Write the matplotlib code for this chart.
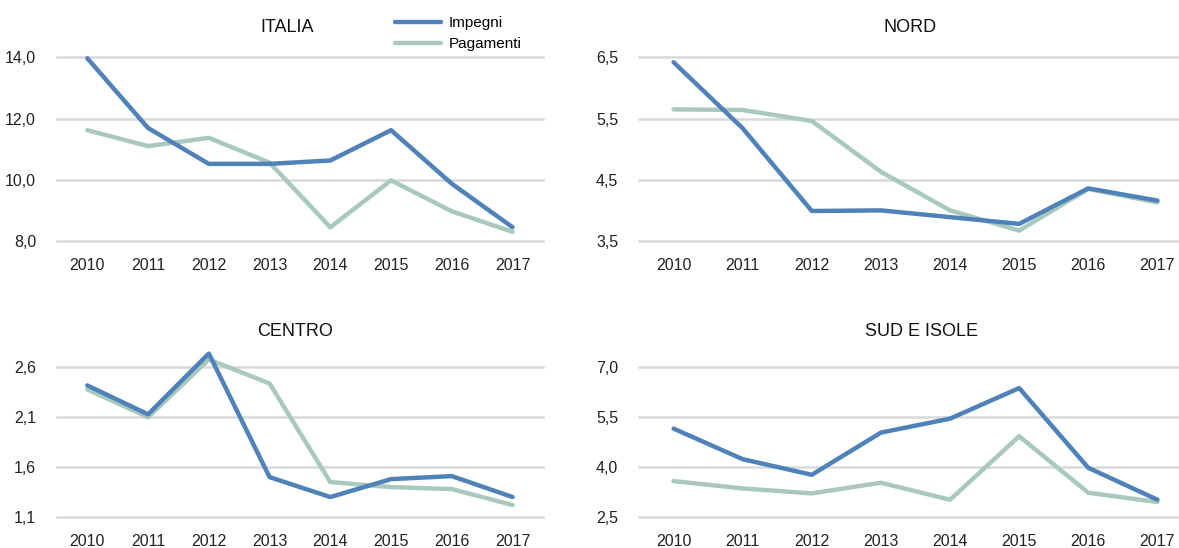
import matplotlib
matplotlib.use("Agg")
import matplotlib.pyplot as plt
from matplotlib.ticker import FuncFormatter

plt.rcParams['font.family'] = ['Liberation Sans Narrow', 'Liberation Sans', 'DejaVu Sans']

years = [2010, 2011, 2012, 2013, 2014, 2015, 2016, 2017]
labels = ["Impegni", "Pagamenti"]

italia_imp = [13.97, 11.69, 10.52, 10.52, 10.63, 11.62, 9.87, 8.45]
italia_pag = [11.62, 11.10, 11.37, 10.56, 8.45, 9.98, 8.97, 8.30]

nord_imp = [6.42, 5.34, 3.99, 4.00, 3.89, 3.78, 4.36, 4.16]
nord_pag = [5.65, 5.64, 5.46, 4.63, 4.00, 3.67, 4.35, 4.13]

centro_imp = [2.42, 2.13, 2.74, 1.50, 1.30, 1.48, 1.51, 1.30]
centro_pag = [2.38, 2.10, 2.68, 2.44, 1.45, 1.40, 1.38, 1.22]

sud_imp = [5.16, 4.24, 3.77, 5.04, 5.46, 6.38, 3.98, 3.02]
sud_pag = [3.58, 3.36, 3.21, 3.53, 3.02, 4.93, 3.23, 2.95]

panels = [
    ("ITALIA", italia_imp, italia_pag, [8.0, 10.0, 12.0, 14.0]),
    ("NORD", nord_imp, nord_pag, [3.5, 4.5, 5.5, 6.5]),
    ("CENTRO", centro_imp, centro_pag, [1.1, 1.6, 2.1, 2.6]),
    ("SUD E ISOLE", sud_imp, sud_pag, [2.5, 4.0, 5.5, 7.0]),
]

# axes boxes in figure fraction (left, bottom, width, height), title x and pad
boxes = [
    [0.0483, 0.5602, 0.4122, 0.3352],
    [0.5420, 0.5602, 0.4690, 0.3352],
    [0.0483, 0.0566, 0.4122, 0.2728],
    [0.5420, 0.0566, 0.4690, 0.2728],
]
title_x = [0.473, 0.49, 0.49, 0.51]
title_pad = [18, 18, 23, 23]

BLUE = "#4f82b9"
SAGE = "#a9c9bd"
GRID = "#d9d9d9"

fig = plt.figure(figsize=(11.79, 5.48), dpi=100)

comma = FuncFormatter(lambda v, p: ("%.1f" % v).replace(".", ","))

lines = []
for (title, imp, pag, ticks), box, tx, tp in zip(panels, boxes, title_x, title_pad):
    ax = fig.add_axes(box)
    x = list(range(len(years)))
    l1, = ax.plot(x, imp, color=BLUE, lw=3.2, solid_capstyle='round', clip_on=False, zorder=4)
    l2, = ax.plot(x, pag, color=SAGE, lw=3.2, solid_capstyle='round', clip_on=False, zorder=3)
    lines = [l1, l2]
    ax.set_xlim(-0.5, len(years) - 0.5)
    ax.set_ylim(ticks[0], ticks[-1])
    ax.set_yticks(ticks)
    ax.yaxis.set_major_formatter(comma)
    ax.set_xticks(x)
    ax.set_xticklabels([str(y) for y in years])
    for s in ax.spines.values():
        s.set_visible(False)
    for t in ticks:
        ax.axhline(t, color=GRID, lw=1.8, zorder=1, clip_on=False)
    ax.tick_params(axis='both', length=0, labelsize=11.5, colors="#222222")
    ax.tick_params(axis='y', pad=15)
    ax.tick_params(axis='x', pad=12)
    ax.set_title(title, fontsize=13, pad=tp, color="#111111", x=tx)

fig.legend(lines, labels, loc='upper left', bbox_to_anchor=(0.326, 0.99),
           frameon=False, fontsize=11, handlelength=3.0, handletextpad=0.5,
           labelspacing=0.45, borderpad=0.2)

fig.savefig("out.png", dpi=100)
